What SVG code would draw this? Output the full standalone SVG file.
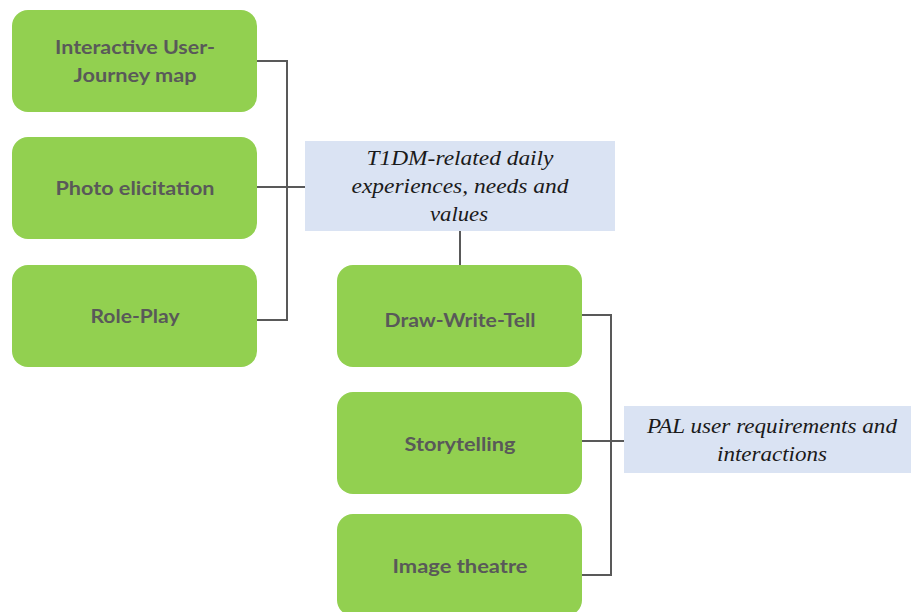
<svg xmlns="http://www.w3.org/2000/svg" width="911" height="612" viewBox="0 0 911 612">
  <style>
    .method rect { fill: #92d050; }
    .method text { font-family: "Lato", "Open Sans", "Liberation Sans", sans-serif; font-weight: bold; font-size: 19px; fill: #595959; text-anchor: middle; }
    .outcome rect { fill: #dae3f3; }
    .outcome text { font-family: "Liberation Serif", "Times New Roman", serif; font-style: italic; font-size: 22px; fill: #1a1a1a; text-anchor: middle; }
    .links path { fill: none; stroke: #595959; stroke-width: 2; }
  </style>
  <rect width="911" height="612" fill="#ffffff"/>

  <g class="links">
    <path d="M257 61 H287 V320 H257"/>
    <path d="M257 187 H305"/>
    <path d="M460 231 V266"/>
    <path d="M582 315 H611 V575 H582"/>
    <path d="M582 441 H624"/>
  </g>

  <g id="journey-map" class="method">
    <rect x="12" y="10" width="245" height="102" rx="16"/>
    <text x="135" y="54" textLength="160" lengthAdjust="spacingAndGlyphs">Interactive User-</text>
    <text x="135" y="82" textLength="123" lengthAdjust="spacingAndGlyphs">Journey map</text>
  </g>
  <g id="photo-elicitation" class="method">
    <rect x="12" y="137" width="245" height="102" rx="16"/>
    <text x="135" y="195" textLength="159" lengthAdjust="spacingAndGlyphs">Photo elicitation</text>
  </g>
  <g id="role-play" class="method">
    <rect x="12" y="265" width="245" height="102" rx="16"/>
    <text x="135" y="323" textLength="89" lengthAdjust="spacingAndGlyphs">Role-Play</text>
  </g>

  <g id="daily-experiences" class="outcome">
    <rect x="305" y="141" width="310" height="90"/>
    <text x="460" y="165" textLength="187" lengthAdjust="spacingAndGlyphs">T1DM-related daily</text>
    <text x="460" y="193" textLength="217" lengthAdjust="spacingAndGlyphs">experiences, needs and</text>
    <text x="459" y="221" textLength="58" lengthAdjust="spacingAndGlyphs">values</text>
  </g>

  <g id="draw-write-tell" class="method">
    <rect x="337" y="265" width="245" height="102" rx="16"/>
    <text x="460" y="327" textLength="151" lengthAdjust="spacingAndGlyphs">Draw-Write-Tell</text>
  </g>
  <g id="storytelling" class="method">
    <rect x="337" y="392" width="245" height="102" rx="16"/>
    <text x="460" y="451" textLength="111" lengthAdjust="spacingAndGlyphs">Storytelling</text>
  </g>
  <g id="image-theatre" class="method">
    <rect x="337" y="514" width="245" height="102" rx="16"/>
    <text x="460" y="573" textLength="135" lengthAdjust="spacingAndGlyphs">Image theatre</text>
  </g>

  <g id="pal-requirements" class="outcome">
    <rect x="624" y="406" width="290" height="67"/>
    <text x="772" y="433" textLength="250" lengthAdjust="spacingAndGlyphs">PAL user requirements and</text>
    <text x="772" y="461" textLength="110" lengthAdjust="spacingAndGlyphs">interactions</text>
  </g>
</svg>
